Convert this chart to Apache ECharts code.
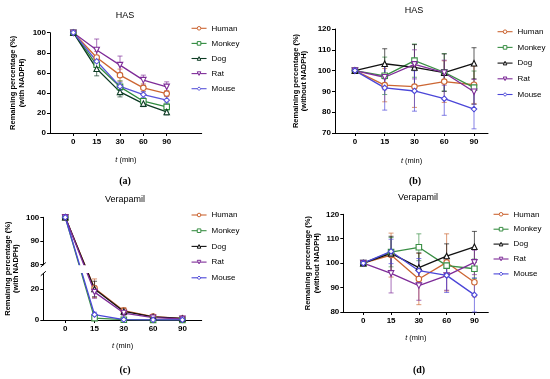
<!DOCTYPE html>
<html><head><meta charset="utf-8">
<script src="https://cdn.jsdelivr.net/npm/echarts@6/dist/echarts.min.js"></script>
<style>
html,body{margin:0;padding:0;background:#fff;width:550px;height:379px;overflow:hidden;}
.p{position:absolute;}
</style></head><body>
<div id="pa" class="p" style="left:0;top:0;width:275px;height:190px"></div>
<div id="pb" class="p" style="left:275px;top:0;width:275px;height:190px"></div>
<div id="pc" class="p" style="left:0;top:190px;width:275px;height:189px"></div>
<div id="pd" class="p" style="left:275px;top:190px;width:275px;height:189px"></div>
<script>
// ---------- data ----------
const times = ['0', '15', '30', '60', '90'];
const species = ['Human', 'Monkey', 'Dog', 'Rat', 'Mouse'];

// (a) HAS, with NADPH
const humanA  = [100, 75.3, 57.7, 45.0, 39.3];
const monkeyA = [100, 68.0, 46.0, 31.7, 26.0];
const dogA    = [100, 64.0, 41.0, 29.3, 21.0];
const ratA    = [100, 82.7, 67.7, 52.7, 46.0];
const mouseA  = [100, 71.5, 46.5, 38.3, 32.7];
const humanAErr  = [0, 6, 6, 4, 3];
const monkeyAErr = [0, 6, 6, 3, 4];
const dogAErr    = [0, 7, 5, 3, 3];
const ratAErr    = [0, 11, 9, 5, 5];
const mouseAErr  = [0, 5, 4, 3, 4];

// (b) HAS, without NADPH
const humanB  = [100, 93.0, 92.3, 94.7, 93.2];
const monkeyB = [100, 97.5, 104.8, 99.2, 91.8];
const dogB    = [100, 103.3, 101.5, 99.0, 103.5];
const ratB    = [100, 96.8, 103.0, 99.0, 89.8];
const mouseB  = [100, 91.7, 90.2, 86.5, 81.5];
const humanBErr  = [0, 8, 10, 10, 9];
const monkeyBErr = [0, 9, 8, 9, 8];
const dogBErr    = [0, 7.2, 11, 9, 7.5];
const ratBErr    = [0, 6, 7, 6, 6];
const mouseBErr  = [0, 10.7, 9.7, 8, 9.5];

// (c) Verapamil, with NADPH
const humanC  = [100, 20.5, 6.0, 2.2, 1.0];
const monkeyC = [100, 1.2, 0.2, 0.1, 0.1];
const dogC    = [100, 20.0, 5.5, 2.0, 1.0];
const ratC    = [100, 18.0, 4.5, 1.5, 0.7];
const mouseC  = [100, 3.5, 0.3, 0.1, 0.1];
const humanCErr  = [0, 6, 2, 1, 0.5];
const monkeyCErr = [0, 1, 0.3, 0.2, 0.1];
const dogCErr    = [0, 5, 2, 1, 0.5];
const ratCErr    = [0, 4, 1.5, 0.8, 0.5];
const mouseCErr  = [0, 1.5, 0.3, 0.1, 0.1];

// (d) Verapamil, without NADPH
const humanD  = [100, 103.3, 93.5, 100.3, 92.2];
const monkeyD = [100, 104.5, 106.5, 99.0, 97.7];
const dogD    = [100, 104.0, 98.2, 102.9, 106.7];
const ratD    = [100, 95.8, 90.8, 94.9, 100.3];
const mouseD  = [100, 104.8, 96.9, 95.0, 87.0];
const humanDErr  = [0, 9, 10.5, 11.7, 6];
const monkeyDErr = [0, 6, 5.5, 4, 4];
const dogDErr    = [0, 7, 6, 5, 6.3];
const ratDErr    = [0, 8, 6, 6, 5];
const mouseDErr  = [0, 5, 5, 7, 7];

// y tick labels for the broken axis of (c)
const yTicksC = [0, 20, 80, 90, 100];

// ---------- styling ----------
const FONT = '"Liberation Sans", Arial, sans-serif';
const SERIF = '"Liberation Serif", "Times New Roman", serif';
const colorsStd = ['#CC6633', '#3A8F45', '#111111', '#7E2C98', '#4B46D8'];
const colorsA   = ['#CC6633', '#2F8A3E', '#0D3B24', '#7E2C98', '#5A55DA'];
const symbols = ['circle', 'rect', 'triangle', 'path://M0,0 L10,0 L5,9 Z', 'diamond'];

// broken axis mapping for panel (c)
const LOW_MAX = 30, HIGH_MIN = 80, HIGH_MAX = 100;
const LOW_PX_PER = 1.55, HIGH_PX_PER = 2.37, GAP_PX = 8.8;
const HIGH_START = LOW_MAX * LOW_PX_PER + GAP_PX;
function toV(v) { return v <= LOW_MAX ? v * LOW_PX_PER : HIGH_START + (v - HIGH_MIN) * HIGH_PX_PER; }
function fromV(y) { return y <= LOW_MAX * LOW_PX_PER + 0.01 ? y / LOW_PX_PER : HIGH_MIN + (y - HIGH_START) / HIGH_PX_PER; }

function errRender(col) {
  return function (params, api) {
    const x = api.value(0), lo = api.value(1), hi = api.value(2);
    const p1 = api.coord([x, hi]), p2 = api.coord([x, lo]);
    const w = 2.5;
    const st = { stroke: col, lineWidth: 0.8, opacity: 0.85 };
    return { type: 'group', children: [
      { type: 'line', shape: { x1: p1[0], y1: p1[1], x2: p2[0], y2: p2[1] }, style: st },
      { type: 'line', shape: { x1: p1[0] - w, y1: p1[1], x2: p1[0] + w, y2: p1[1] }, style: st },
      { type: 'line', shape: { x1: p2[0] - w, y1: p2[1], x2: p2[0] + w, y2: p2[1] }, style: st }
    ]};
  };
}

function txt(id, x, y, text, size, weight, family) {
  return { id: id, type: 'text', x: x, y: y, silent: true, style: {
    text: text, fontSize: size, fontWeight: weight || 'normal', fontFamily: family || FONT, fill: '#000',
    align: 'center', verticalAlign: 'middle', textAlign: 'center', textVerticalAlign: 'middle' } };
}

function build(id, o) {
  const chart = echarts.init(document.getElementById(id), null, { renderer: 'canvas' });
  const tf = o.tf || (v => v);
  const series = [];
  species.forEach((name, k) => {
    const vals = o.values[k], errs = o.errors[k];
    series.push({
      type: 'custom', name: name + ' SD', silent: true, z: 1,
      renderItem: errRender(o.colors[k]),
      encode: { x: 0, y: [1, 2] },
      data: vals.map((v, i) => [i, tf(v - errs[i]), tf(v + errs[i])]).filter((d, i) => errs[i] > 0)
    });
  });
  species.forEach((name, k) => {
    const col = o.colors[k];
    series.push({
      type: 'line', name: name, color: col, z: 3,
      data: o.values[k].map((v, i) => [i, tf(v)]),
      symbol: symbols[k], symbolSize: 5.5, showSymbol: true,
      lineStyle: { color: col, width: 1.3 },
      itemStyle: { color: '#fff', borderColor: col, borderWidth: 1.1 },
      emphasis: { disabled: true }, animation: false
    });
  });
  const axisLine = { show: true, onZero: false, lineStyle: { color: '#000', width: 1 } };
  const yAxis = {
    type: 'value', min: o.yMin, max: o.yMax,
    axisLine: axisLine,
    axisTick: { show: true, length: 3, lineStyle: { color: '#000' } },
    splitLine: { show: false },
    axisLabel: { color: '#000', fontFamily: FONT, fontWeight: 'bold', fontSize: 8, margin: 4 },
    name: o.yName, nameLocation: 'middle', nameRotate: 90, nameGap: o.yNameGap, nameMoveOverlap: false,
    nameTextStyle: { color: '#000', fontFamily: FONT, fontWeight: 'bold', fontSize: 7.5, lineHeight: 8.5 }
  };
  if (o.yInterval) yAxis.interval = o.yInterval;
  if (o.yCustom) {
    yAxis.axisLabel.customValues = o.yCustom;
    yAxis.axisTick.customValues = o.yCustom;
    yAxis.axisLabel.formatter = o.yFormatter;
  }
  const option = {
    animation: false,
    backgroundColor: '#fff',
    grid: { left: o.grid[0], top: o.grid[1], width: o.grid[2], height: o.grid[3],
      containLabel: false, outerBoundsMode: 'none' },
    xAxis: {
      type: 'value', min: o.xMin, max: o.xMax,
      axisLine: axisLine,
      axisTick: { show: true, length: 3, customValues: [0, 1, 2, 3, 4], lineStyle: { color: '#000' } },
      splitLine: { show: false },
      axisLabel: { customValues: [0, 1, 2, 3, 4], formatter: v => times[Math.round(v)], color: '#000',
        fontFamily: FONT, fontWeight: 'bold', fontSize: 8, margin: 5 },
      name: '{i|t} (min)', nameLocation: 'middle', nameGap: o.xNameGap, nameMoveOverlap: false,
      nameTextStyle: { color: '#000', fontFamily: FONT, fontSize: 7.5,
        rich: { i: { fontStyle: 'italic', fontFamily: FONT, fontSize: 7.5, color: '#000' } } }
    },
    yAxis: yAxis,
    legend: {
      data: species, orient: 'vertical', left: o.legend[0], top: o.legend[1], padding: 0,
      itemWidth: 15, itemHeight: 4.5, itemGap: o.legend[2], selectedMode: false,
      itemStyle: { color: '#fff', borderWidth: 1 },
      lineStyle: { width: 1.1 },
      textStyle: { color: '#000', fontFamily: FONT, fontSize: 8, lineHeight: 7 }
    },
    graphic: [
      txt('title', o.title[0], o.title[1], o.title[2], 9),
      txt('plabel', o.label[0], o.label[1], o.label[2], 10, 'bold', SERIF)
    ],
    series: series
  };
  chart.setOption(option);
  return chart;
}

build('pa', {
  values: [humanA, monkeyA, dogA, ratA, mouseA],
  errors: [humanAErr, monkeyAErr, dogAErr, ratAErr, mouseAErr],
  colors: colorsA,
  grid: [50, 32.7, 151.7, 100.3], xMin: -1, xMax: 5.5,
  yMin: 0, yMax: 100, yInterval: 20,
  yName: 'Remaining percentage (%)\n(with NADPH)', yNameGap: 24,
  xNameGap: 23, legend: [191, 24.3, 7.1],
  title: [125, 15.7, 'HAS'], label: [125, 181.7, '(a)']
});

build('pb', {
  values: [humanB, monkeyB, dogB, ratB, mouseB],
  errors: [humanBErr, monkeyBErr, dogBErr, ratBErr, mouseBErr],
  colors: colorsStd,
  grid: [60, 29, 153, 104], xMin: -0.67, xMax: 4.47,
  yMin: 70, yMax: 120, yInterval: 10,
  yName: 'Remaining percentage (%)\n(without NADPH)', yNameGap: 26.5,
  xNameGap: 24, legend: [222, 27.7, 7.7],
  title: [139, 10.7, 'HAS'], label: [140, 181.7, '(b)']
});

const chartC = build('pc', {
  values: [humanC, monkeyC, dogC, ratC, mouseC],
  errors: [humanCErr, monkeyCErr, dogCErr, ratCErr, mouseCErr],
  colors: colorsStd, tf: toV,
  grid: [43.3, 27.3, 158.4, 102.7], xMin: -0.75, xMax: 4.66,
  yMin: 0, yMax: toV(HIGH_MAX),
  yCustom: yTicksC.map(toV), yFormatter: v => String(Math.round(fromV(v))),
  yName: 'Remaining percentage (%)\n(with NADPH)', yNameGap: 23,
  xNameGap: 22, legend: [191, 21, 7.7],
  title: [125, 10, 'Verapamil'], label: [125, 180, '(c)']
});
// gap of the broken axis (positions from the chart's own scale)
(function () {
  const xMin = -0.75, xMax = 4.66;
  const pHi = chartC.convertToPixel({ gridIndex: 0 }, [xMin, toV(HIGH_MIN)]);
  const pLo = chartC.convertToPixel({ gridIndex: 0 }, [xMin, toV(LOW_MAX)]);
  const pR = chartC.convertToPixel({ gridIndex: 0 }, [xMax, 0]);
  const ax = pHi[0];
  const slash = (id, y) => ({ id: id, type: 'line', z: 3.6, shape: { x1: ax - 2.5, y1: y + 2.2, x2: ax + 2.5, y2: y - 2.2 },
    style: { stroke: '#000', lineWidth: 1 } });
  chartC.setOption({ graphic: [
    { id: 'gap', type: 'rect', z: 3.5, shape: { x: ax - 3, y: pHi[1] + 0.5, width: pR[0] - ax + 3, height: pLo[1] - pHi[1] - 1 },
      style: { fill: '#fff' }, silent: true },
    slash('s1', pHi[1]), slash('s2', pLo[1])
  ] });
})();

build('pd', {
  values: [humanD, monkeyD, dogD, ratD, mouseD],
  errors: [humanDErr, monkeyDErr, dogDErr, ratDErr, mouseDErr],
  colors: colorsStd,
  grid: [68.3, 24.3, 145, 97.7], xMin: -0.72, xMax: 4.5,
  yMin: 80, yMax: 120, yInterval: 10,
  yName: 'Remaining percentage (%)\n(without NADPH)', yNameGap: 22.3,
  xNameGap: 22, legend: [218, 20.3, 6.9],
  title: [143, 7.3, 'Verapamil'], label: [144, 180, '(d)']
});
</script>
</body></html>
